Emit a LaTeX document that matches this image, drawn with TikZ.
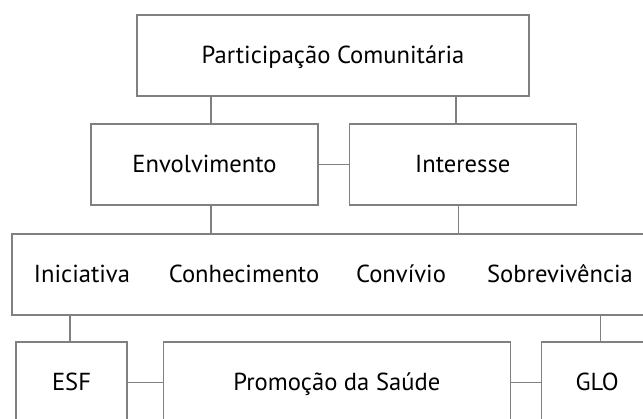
\documentclass[tikz,border=0pt]{standalone}
\usepackage{fontspec}
\setmainfont{PT Sans}
\usepackage{tikz}
\usetikzlibrary{positioning, calc}
\usepackage{xcolor}
\definecolor{boxgray}{RGB}{128,128,128}

\begin{document}
\begin{tikzpicture} [x=1pt, y=-1pt, node distance = 0pt and 30pt,    box/.style={draw=boxgray, line width=1.3pt, rectangle, minimum height=81pt, inner sep=0pt, text height=17pt, text depth=-3pt, font=\fontsize{24.6}{28}\selectfont},    word/.style={inner sep=0pt, text height=17pt, text depth=-3pt, font=\fontsize{24.6}{28}\selectfont},    link/.style={draw=boxgray, line width=1.3pt}]
        \useasboundingbox (0,0) rectangle (643,419);
        \clip (0,0) rectangle (643,419);
        % Nodes
        \node[box, minimum width=392pt] (partic) at (333,55.5) {Participação Comunitária};
        \node[box, minimum width=227pt] (envol) at (204.5,164.5) {Envolvimento};
        \node[box, minimum width=227pt, right=30pt of envol] (inter) {Interesse};
        \node[box, minimum width=643pt] (fatores) at (333.5,274.5) {};
        \node[word] (inic) at (82,274.5) {Iniciativa};
        \node[word] (conh) at (244,274.5) {Conhecimento};
        \node[word] (conv) at (401,274.5) {Convívio};
        \node[word] (sobr) at (560,274.5) {Sobrevivência};
        \node[box, minimum width=111pt] (esf) at (71.5,382.5) {ESF};
        \node[box, minimum width=347pt, right=35pt of esf] (promo) {Promoção da Saúde};
        \node[box, minimum width=111pt, right=30pt of promo] (glo) {GLO};

        % Lines
        \draw[link] ([xshift=-122pt]partic.south) -- ([xshift=-122pt]partic.south |- envol.north);
        \draw[link] ([xshift=123pt]partic.south) -- ([xshift=123pt]partic.south |- inter.north);
        \draw[link] (envol.east) -- (inter.west);
        \draw[link] ([xshift=6.5pt]envol.south) -- ([xshift=6.5pt]envol.south |- fatores.north);
        \draw[link] ([xshift=-4.5pt]inter.south) -- ([xshift=-4.5pt]inter.south |- fatores.north);
        \draw[link] ([xshift=-1.5pt]esf.north) -- ([xshift=-1.5pt]esf.north |- fatores.south);
        \draw[link] ([xshift=3.5pt]glo.north) -- ([xshift=3.5pt]glo.north |- fatores.south);
        \draw[link] (esf.east) -- (promo.west);
        \draw[link] (promo.east) -- (glo.west);
    \end{tikzpicture}
\end{document}
